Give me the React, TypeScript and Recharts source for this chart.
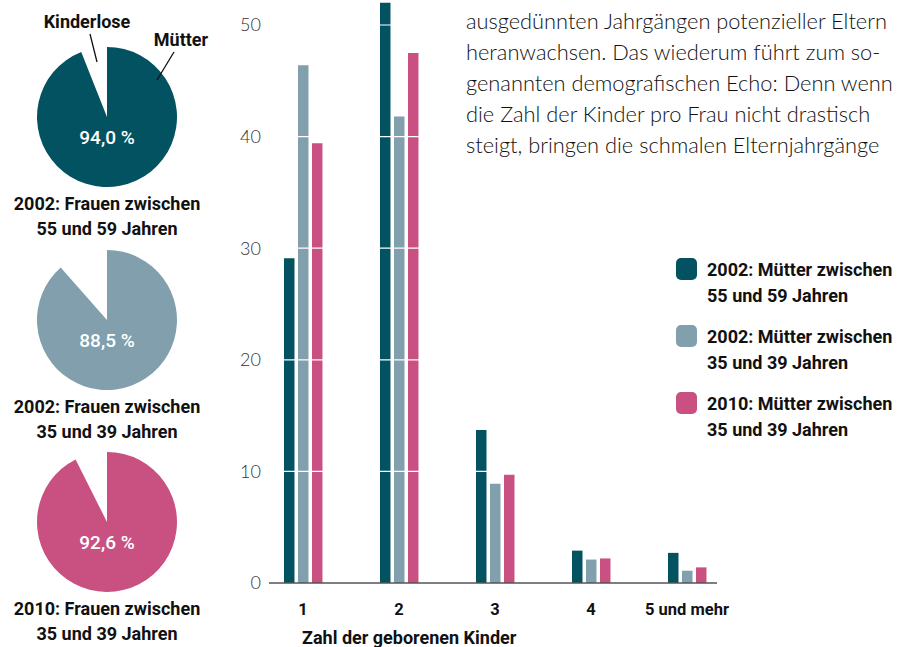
import { BarChart, Bar, XAxis, YAxis, ReferenceLine, Legend, PieChart, Pie, Cell } from "recharts";

const categories = ["1", "2", "3", "4", "5 und mehr"];
const muetter2002Alt = [29.1, 52.0, 13.7, 2.9, 2.7];
const muetter2002Jung = [46.4, 41.8, 8.9, 2.1, 1.1];
const muetter2010Jung = [39.4, 47.5, 9.7, 2.2, 1.4];
const yTicks = [0, 10, 20, 30, 40, 50];

const seriesKeys = ["alt2002", "jung2002", "jung2010"];
const seriesLines = [
    ["2002: Mütter zwischen", "55 und 59 Jahren"],
    ["2002: Mütter zwischen", "35 und 39 Jahren"],
    ["2010: Mütter zwischen", "35 und 39 Jahren"],
];
const colors = ["#035262", "#819FAD", "#C85182"];

const pieShares = [94.0, 88.5, 92.6];
const pieCaptions = [
    ["2002: Frauen zwischen", "55 und 59 Jahren"],
    ["2002: Frauen zwischen", "35 und 39 Jahren"],
    ["2010: Frauen zwischen", "35 und 39 Jahren"],
];

const textLines = [
    "ausgedünnten Jahrgängen potenzieller Eltern",
    "heranwachsen. Das wiederum führt zum so-",
    "genannten demografischen Echo: Denn wenn",
    "die Zahl der Kinder pro Frau nicht drastisch",
    "steigt, bringen die schmalen Elternjahrgänge",
];

const data = categories.map((c, i) => ({
    x: i + 1,
    label: c,
    alt2002: muetter2002Alt[i],
    jung2002: muetter2002Jung[i],
    jung2010: muetter2010Jung[i],
}));

const bold = "Roboto, 'Noto Sans', sans-serif";
const light = "Lato, 'Noto Sans', sans-serif";

function LegendBox() {
    return (
        <div style={{ fontFamily: bold, fontWeight: 700, fontSize: 18, color: "#111" }}>
            {seriesLines.map((lines, i) => (
                <div key={i} style={{ display: "flex", marginBottom: 15 }}>
                    <div style={{ width: 21, height: 22, borderRadius: 5, background: colors[i], marginTop: 1, marginRight: 10 }} />
                    <div style={{ lineHeight: "26px", marginTop: 0 }}>
                        {lines[0]}<br />{lines[1]}
                    </div>
                </div>
            ))}
        </div>
    );
}

function PieBlock({ index, top }: { index: number; top: number }) {
    const share = pieShares[index];
    const pieData = [
        { name: "Mütter", value: share },
        { name: "Kinderlose", value: 100 - share },
    ];
    const label = (p: any) => {
        if (p.index !== 0) return null;
        return (
            <text x={p.cx} y={p.cy + 22} textAnchor="middle" dominantBaseline="middle"
                fill="#fff" fontSize={19} fontWeight={500} fontFamily={bold}>
                {share.toFixed(1).replace(".", ",")} %
            </text>
        );
    };
    return (
        <div style={{ position: "absolute", left: 27, top: top }}>
            <PieChart width={160} height={160} margin={{ top: 0, right: 0, bottom: 0, left: 0 }}>
                <Pie data={pieData} dataKey="value" cx="50%" cy="50%" outerRadius={70}
                    startAngle={90} endAngle={-270} stroke="none" label={label}
                    labelLine={false} isAnimationActive={false}>
                    <Cell fill={colors[index]} />
                    <Cell fill="transparent" />
                </Pie>
            </PieChart>
        </div>
    );
}

export default function App() {
    const pieCenters = [117, 320, 522];
    return (
        <div style={{ position: "absolute", left: 0, top: 0, width: 909, height: 647, overflow: "hidden", background: "#fff" }}>
            {pieCenters.map((c, i) => (
                <PieBlock key={i} index={i} top={c - 80} />
            ))}
            {pieCenters.map((c, i) => (
                <div key={"cap" + i} style={{
                    position: "absolute", left: 0, width: 214, top: c + 74, textAlign: "center",
                    fontFamily: bold, fontWeight: 700, fontSize: 18, lineHeight: "25px", color: "#111",
                }}>
                    {pieCaptions[i][0]}<br />{pieCaptions[i][1]}
                </div>
            ))}
            <svg style={{ position: "absolute", left: 0, top: 0 }} width={230} height={100}>
                <text x={87} y={28} textAnchor="middle" fontFamily={bold} fontWeight={700} fontSize={18} fill="#111">Kinderlose</text>
                <text x={181} y={46} textAnchor="middle" fontFamily={bold} fontWeight={700} fontSize={18} fill="#111">Mütter</text>
                <line x1={90} y1={34} x2={97} y2={62} stroke="#111" strokeWidth={1.3} />
                <line x1={174} y1={52} x2={157} y2={80} stroke="#111" strokeWidth={1.3} />
            </svg>

            <div style={{ position: "absolute", left: 0, top: 0 }}>
                <BarChart width={909} height={647} data={data}
                    margin={{ top: 1, right: 192, left: 229, bottom: 34 }}
                    barSize={10.5} barGap={3.5}>
                    <XAxis type="number" dataKey="x" domain={[0.646, 5.3125]} ticks={[1, 2, 3, 4, 5]}
                        allowDataOverflow tickFormatter={(v: number) => categories[v - 1]}
                        height={30} tickLine={false} axisLine={{ stroke: "#555", strokeWidth: 1.5 }}
                        tick={{ fill: "#111", fontSize: 16.5, fontWeight: 700, fontFamily: bold }} tickMargin={14} />
                    <YAxis width={40} domain={[0, 52.15]} ticks={yTicks} allowDataOverflow
                        axisLine={false} tickLine={false}
                        tick={{ fill: "#333", fontSize: 18, fontWeight: 300, fontFamily: light }} />
                    {seriesKeys.map((k, i) => (
                        <Bar key={k} dataKey={k} name={seriesLines[i].join(" ")} fill={colors[i]} isAnimationActive={false} />
                    ))}
                    {yTicks.filter((t) => t > 0).map((t) => (
                        <ReferenceLine key={t} y={t} stroke="#fff" strokeWidth={1.2} />
                    ))}
                    <Legend layout="vertical" align="center" verticalAlign="middle"
                        wrapperStyle={{ left: 676, top: 257, width: 233 }}
                        content={() => <LegendBox />} />
                </BarChart>
            </div>

            <div style={{
                position: "absolute", left: 302, top: 627, fontFamily: bold, fontWeight: 700,
                fontSize: 18, color: "#111", whiteSpace: "nowrap",
            }}>
                Zahl der geborenen Kinder
            </div>

            <div style={{
                position: "absolute", left: 466, top: 5, fontFamily: light, fontWeight: 300,
                fontSize: 21.8, lineHeight: "31px", color: "#111", whiteSpace: "nowrap",
            }}>
                {textLines.map((l, i) => <div key={i}>{l}</div>)}
            </div>
        </div>
    );
}
